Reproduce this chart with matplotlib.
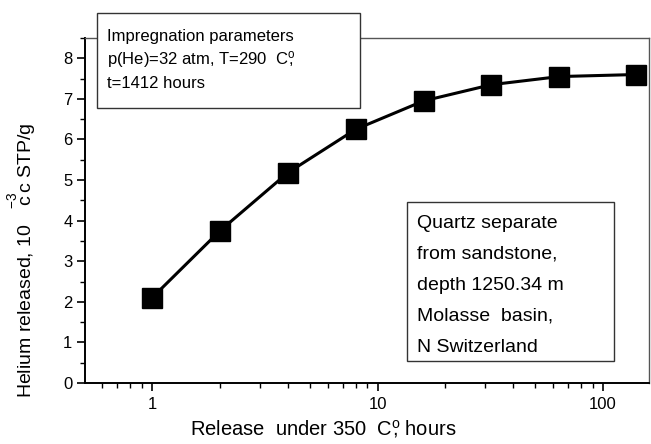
import matplotlib
matplotlib.use("Agg")
import matplotlib.pyplot as plt
from matplotlib.patches import Rectangle
from matplotlib.ticker import MultipleLocator, FixedLocator, NullFormatter

plt.rcParams['font.family'] = ['Liberation Sans', 'DejaVu Sans']
plt.rcParams['mathtext.fontset'] = 'custom'
plt.rcParams['mathtext.rm'] = 'Liberation Sans'
plt.rcParams['mathtext.it'] = 'Liberation Sans'

# release time (hours) and helium released (10^-3 cc STP/g)
hours = [1, 2, 4, 8, 16, 32, 64, 140]
helium = [2.1, 3.75, 5.18, 6.25, 6.95, 7.35, 7.55, 7.6]

W, H = 651, 444
fig = plt.figure(figsize=(W / 100, H / 100), dpi=100)
ax = fig.add_axes([85 / W, 1 - 383 / H, (649 - 85) / W, (383 - 38) / H])

ax.plot(hours, helium, color='black', lw=2.2, marker='s', ms=14,
        mfc='black', mec='black', zorder=3)

ax.set_xscale('log')
ax.set_xlim(0.504, 160)
ax.set_ylim(0, 8.5)

ax.set_xticks([1, 10, 100])
ax.set_xticklabels(['1', '10', '100'])
ax.xaxis.set_minor_locator(FixedLocator([m * 10 ** e for e in (-1, 0, 1, 2)
                                         for m in range(2, 10)
                                         if 0.504 < m * 10 ** e < 160]))
ax.xaxis.set_minor_formatter(NullFormatter())
ax.yaxis.set_major_locator(MultipleLocator(1))
ax.yaxis.set_minor_locator(MultipleLocator(0.5))

ax.tick_params(which='major', direction='out', length=6, width=1.2,
               labelsize=12, colors='black', pad=3)
ax.tick_params(which='minor', direction='out', length=3.5, width=1)
ax.tick_params(axis='x', which='major', pad=4)

for s in ('left', 'bottom'):
    ax.spines[s].set_linewidth(1.4)
    ax.spines[s].set_color('black')
for s in ('top', 'right'):
    ax.spines[s].set_linewidth(1.0)
    ax.spines[s].set_color('#555555')

ax.set_xlabel(r'Release  under 350  C$\overset{\mathrm{o}}{,}$ hours',
              fontsize=14.5)
ax.xaxis.set_label_coords(0.422, -0.102)
ax.set_ylabel(r'Helium released, 10   $\overset{\mathrm{-3}}{\mathrm{c}}$c STP/g',
              fontsize=14)
ax.yaxis.set_label_coords(-0.082, 0.355)

# parameters box (sits over the top frame)
fig.patches.append(Rectangle((97 / W, 1 - 108 / H), (360 - 97) / W, (108 - 13) / H,
                             transform=fig.transFigure, facecolor='white',
                             edgecolor='#333333', lw=1.0, zorder=5))
box1 = ['Impregnation parameters',
        r'p(He)=32 atm, T=290  C$\overset{\mathrm{o}}{,}$',
        't=1412 hours']
for i, line in enumerate(box1):
    fig.text(107 / W, 1 - (37 + 23 * i) / H, line, fontsize=12,
             va='center', ha='left', zorder=6)

# sample box
fig.patches.append(Rectangle((407 / W, 1 - 361 / H), (614 - 407) / W, (361 - 202) / H,
                             transform=fig.transFigure, facecolor='white',
                             edgecolor='#333333', lw=1.0, zorder=5))
box2 = ['Quartz separate', 'from sandstone,', 'depth 1250.34 m',
        'Molasse  basin,', 'N Switzerland']
for i, line in enumerate(box2):
    fig.text(417 / W, 1 - (223 + 31 * i) / H, line, fontsize=14,
             va='center', ha='left', zorder=6)

fig.savefig('out.png', dpi=100)
